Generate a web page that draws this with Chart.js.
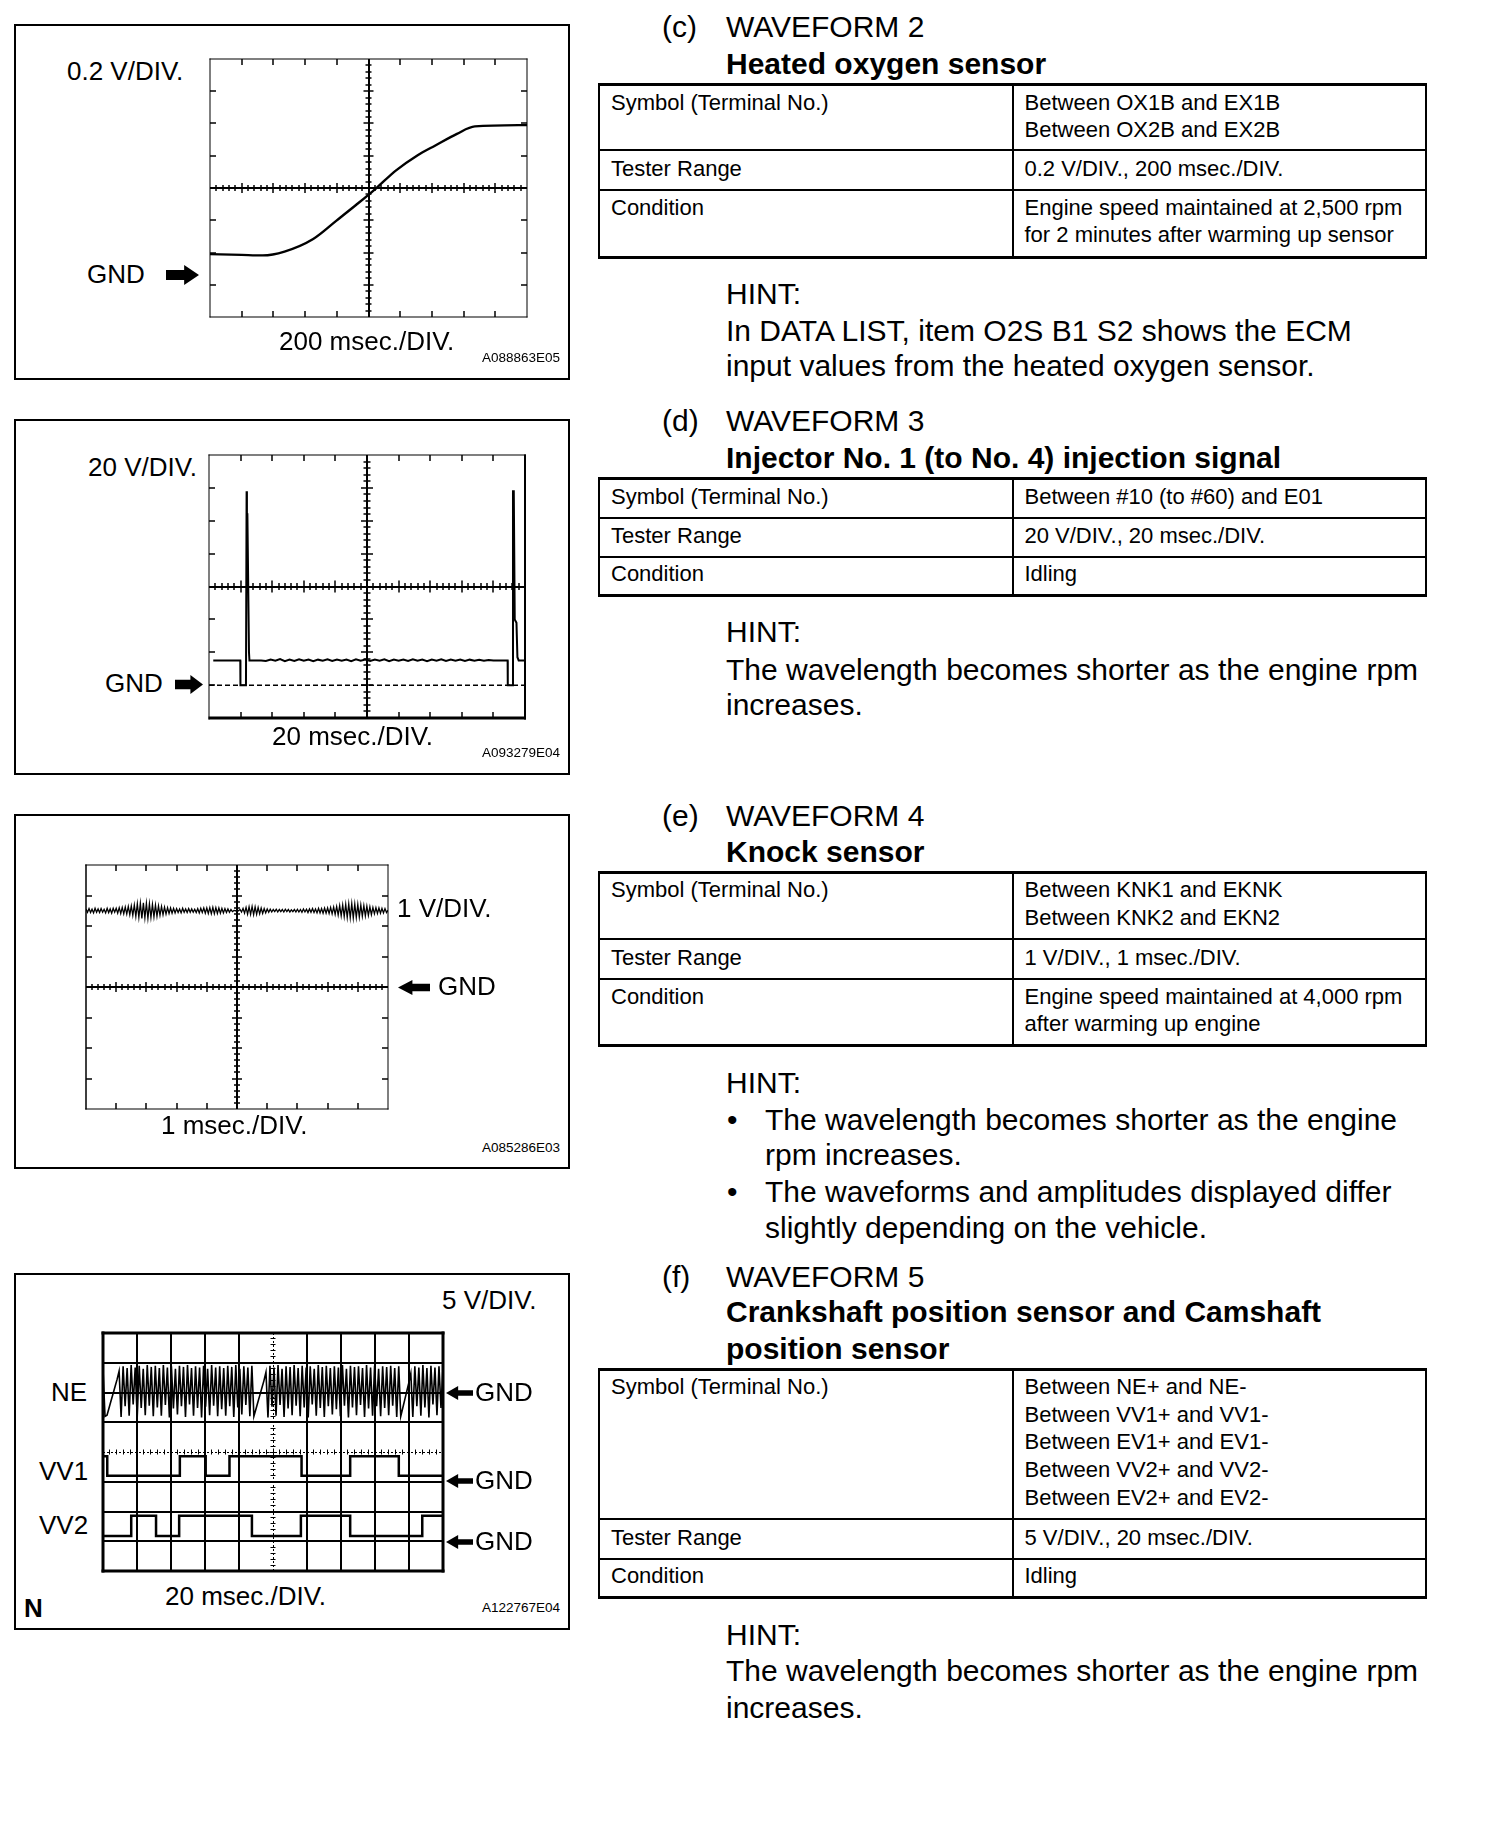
<!DOCTYPE html>
<html><head><meta charset="utf-8">
<script src="https://cdn.jsdelivr.net/npm/chart.js@4"></script>
<style>
html,body{margin:0;padding:0;background:#fff;}
body{width:1504px;height:1830px;position:relative;overflow:hidden;font-family:"Liberation Sans",Arial,Helvetica,sans-serif;color:#000;}
.t{position:absolute;white-space:pre;}
.r{position:absolute;background:#000;}
.box{position:absolute;border:2px solid #000;box-sizing:border-box;}
canvas{position:absolute;}
svg{position:absolute;}
</style></head><body>
<script>
// ================= DATA =================
// WAVEFORM 2 - heated oxygen sensor (x: msec, y: volts above GND)
const o2Time = [0, 200, 333, 470, 651, 798, 923, 1048, 1172, 1308, 1422, 1558, 1671, 2000];
const o2Volt = [0.130, 0.125, 0.122, 0.146, 0.224, 0.338, 0.436, 0.538, 0.648, 0.742, 0.804, 0.876, 0.922, 0.930];

// WAVEFORM 3 - injector signal (x: msec, y: volts)
const injTime = [2.7, 19.8, 19.9, 23.4, 23.8, 24.0, 24.3, 25.3, 25.6, 30, 33, 36, 39, 42, 45, 48, 51, 54, 57, 60, 63, 66, 69, 72, 75, 78, 81, 84, 87, 90, 93, 96, 99, 102, 105, 108, 111, 114, 117, 120, 123, 126, 129, 132, 135, 138, 141, 144, 147, 150, 153, 156, 159, 162, 165, 168, 171, 174, 177, 180, 184, 189, 189.1, 192.0, 192.4, 192.9, 193.5, 194.6, 195.2, 196, 200];
const injVolt = [15, 15, 0, 0, 118, 104, 104, 20, 15, 15.0, 15.0, 14.7, 15.6, 14.8, 15.8, 14.6, 15.5, 14.7, 15.7, 14.8, 15.6, 14.6, 15.5, 14.9, 15.7, 14.7, 15.6, 14.8, 15.5, 14.6, 15.7, 14.8, 15.5, 14.7, 15.6, 14.9, 15.7, 14.6, 15.5, 14.8, 15.6, 14.7, 15.7, 14.8, 15.5, 14.6, 15.6, 14.9, 15.7, 14.7, 15.5, 14.8, 15.6, 14.7, 15.5, 14.9, 15.4, 14.8, 15.3, 15.0, 15.0, 15.0, 0, 0, 118, 118, 40, 38, 17, 15, 15];
const injGndTime = [0, 200];
const injGndVolt = [0, 0];

// WAVEFORM 4 - knock sensor (samples every 0.05 msec, volts)
const knockStep = 0.05;
const knockVolt = [
 2.56,2.45,2.57,2.44,2.55,2.43,2.58,2.45,2.56,2.44,
 2.57,2.45,2.55,2.43,2.58,2.44,2.56,2.42,2.58,2.45,
 2.58,2.42,2.60,2.41,2.61,2.40,2.62,2.39,2.64,2.37,
 2.66,2.35,2.69,2.31,2.73,2.28,2.75,2.25,2.76,2.27,
 2.75,2.25,2.73,2.28,2.71,2.30,2.69,2.32,2.66,2.35,
 2.64,2.37,2.62,2.39,2.60,2.41,2.59,2.42,2.58,2.43,
 2.57,2.44,2.56,2.43,2.58,2.45,2.56,2.44,2.57,2.45,
 2.56,2.45,2.55,2.44,2.57,2.43,2.58,2.44,2.59,2.42,
 2.59,2.41,2.60,2.40,2.61,2.40,2.60,2.41,2.59,2.42,
 2.58,2.43,2.57,2.44,2.56,2.45,2.54,2.47,2.51,2.50,
 2.50,2.50,2.54,2.46,2.58,2.42,2.61,2.39,2.63,2.38,
 2.64,2.37,2.63,2.38,2.61,2.40,2.59,2.41,2.57,2.43,
 2.56,2.45,2.55,2.46,2.54,2.47,2.55,2.46,2.54,2.47,
 2.54,2.46,2.55,2.47,2.54,2.46,2.53,2.47,2.54,2.46,
 2.55,2.46,2.54,2.45,2.56,2.46,2.55,2.44,2.56,2.45,
 2.57,2.44,2.56,2.43,2.58,2.43,2.57,2.42,2.59,2.42,
 2.59,2.41,2.61,2.40,2.62,2.38,2.64,2.36,2.67,2.33,
 2.69,2.31,2.71,2.28,2.73,2.27,2.74,2.26,2.72,2.28,
 2.71,2.29,2.69,2.32,2.67,2.33,2.65,2.35,2.63,2.37,
 2.61,2.40,2.60,2.41,2.59,2.42,2.58,2.43,2.57,2.44,
 2.52];

// WAVEFORM 5 - crankshaft NE (170 samples over 200 msec, volts)
const neSpan = 200;
const neVolt = [
 4.0,-4.0,
 -3.8,-2.6,-1.4,-0.2,1.0,2.2,3.6,
 -4.1,4.4,-2.3,4.1,-3.9,4.6,-2.0,4.2,-4.2,4.5,-2.6,4.0,-3.8,4.6,-2.2,4.3,-4.0,4.5,-2.5,4.1,
 -3.9,4.6,-2.1,4.2,-4.2,4.4,-2.7,4.0,-3.7,4.5,-2.3,4.3,-4.1,4.6,-2.0,4.1,-3.9,4.4,-2.6,4.2,
 -4.2,4.5,-2.4,4.0,-3.8,4.6,-2.2,4.2,-4.0,4.4,-2.8,4.1,-3.9,4.5,-2.3,4.3,-4.1,4.6,-2.5,4.0,
 -3.7,4.4,-2.1,4.2,-4.0,4.5,
 -4.0,-2.8,-1.6,-0.4,0.8,2.0,3.4,
 -4.2,4.5,-2.4,4.2,-3.9,4.6,-2.1,4.0,-4.1,4.4,-2.7,4.3,-3.8,4.6,-2.2,4.1,-4.0,4.5,-2.5,4.2,
 -4.2,4.4,-2.0,4.0,-3.9,4.6,-2.6,4.3,-4.1,4.5,-2.3,4.1,-3.7,4.4,-2.8,4.2,-4.0,4.6,-2.2,4.0,
 -4.2,4.5,-2.5,4.3,-3.8,4.4,-2.1,4.1,-4.1,4.6,-2.7,4.2,-3.9,4.5,-2.3,4.0,-4.0,4.4,-2.6,4.3,
 -3.8,4.5,-2.2,4.1,-4.1,4.4,
 -4.0,-2.6,-1.2,0.2,1.6,3.2,
 -4.1,4.4,-2.3,4.2,-3.9,4.6,-2.5,4.1,-4.2,4.5,-2.0,4.2,-3.8,4.4,-2.6,4.3];
// camshaft VV1 / VV2 (level holds from each time until the next one)
const vv1Time = [0.6, 2.5, 45.2, 60.4, 74.4, 116.8, 145.4, 174.0, 200];
const vv1Volt = [4.3, 1.0, 4.3, 1.0, 4.3, 1.0, 4.3, 1.0, 1.0];
const vv2Time = [0.6, 16.6, 31.2, 44.8, 87.6, 116.4, 145.4, 187.8, 200];
const vv2Volt = [0.9, 4.3, 0.9, 4.3, 0.9, 4.3, 0.9, 4.3, 4.3];

// tick / scale labels
const o2Labels = ['0.2 V/DIV.', '200 msec./DIV.', 'A088863E05'];
const injLabels = ['20 V/DIV.', '20 msec./DIV.', 'A093279E04'];
const knockLabels = ['1 V/DIV.', '1 msec./DIV.', 'A085286E03'];
const camLabels = ['5 V/DIV.', '20 msec./DIV.', 'A122767E04'];
const camChannels = ['NE', 'VV1', 'VV2'];

// ================= HELPERS =================
const pts = (xs, ys) => xs.map((x, i) => ({x: x, y: ys[i]}));
function txt(x, cy, s, size, bold) {
  const d = document.createElement('div'); d.className = 't';
  d.textContent = s; d.style.left = x + 'px'; d.style.top = (cy - size * 0.53) + 'px';
  d.style.fontSize = size + 'px'; d.style.lineHeight = size + 'px';
  if (bold) d.style.fontWeight = 'bold';
  document.body.appendChild(d);
}
function rect(x, y, w, h) {
  const d = document.createElement('div'); d.className = 'r';
  d.style.left = x + 'px'; d.style.top = y + 'px'; d.style.width = w + 'px'; d.style.height = h + 'px';
  document.body.appendChild(d);
}
function box(x, y, w, h) {
  const d = document.createElement('div'); d.className = 'box';
  d.style.left = x + 'px'; d.style.top = y + 'px'; d.style.width = w + 'px'; d.style.height = h + 'px';
  document.body.appendChild(d);
}
function arrow(x, cy, w, h, dir, shaft) {
  const ns = 'http://www.w3.org/2000/svg';
  const s = document.createElementNS(ns, 'svg');
  s.setAttribute('width', w); s.setAttribute('height', h);
  s.style.left = x + 'px'; s.style.top = (cy - h / 2) + 'px';
  const p = document.createElementNS(ns, 'polygon');
  const hl = w * 0.45, a = h * (1 - shaft) / 2, b = h - a;
  let P = [[0, a], [w - hl, a], [w - hl, 0], [w, h / 2], [w - hl, h], [w - hl, b], [0, b]];
  if (dir === 'left') P = P.map(q => [w - q[0], q[1]]);
  p.setAttribute('points', P.map(q => q.join(',')).join(' '));
  p.setAttribute('fill', '#000');
  s.appendChild(p); document.body.appendChild(s);
}

// scope grid plugin
const scopePlugin = {
  id: 'scope',
  beforeDatasetsDraw(chart, args, o) {
    const ctx = chart.ctx, a = chart.chartArea;
    const xs = chart.scales.x, ys = chart.scales[o.gridAxis || 'y'];
    const X = k => xs.getPixelForValue(xs.min + (xs.max - xs.min) * k / o.xDivs);
    const Y = k => ys.getPixelForValue(ys.min + (ys.max - ys.min) * k / o.yDivs);
    ctx.save(); ctx.strokeStyle = '#000'; ctx.lineCap = 'butt';
    const snap = (v, w) => (Math.round(w) % 2 === 1) ? Math.floor(v) + 0.5 : Math.round(v);
    const line = (x1, y1, x2, y2, w, dash) => {
      if (x1 === x2) { x1 = x2 = snap(x1, w); }
      if (y1 === y2) { y1 = y2 = snap(y1, w); }
      ctx.lineWidth = w; ctx.setLineDash(dash || []);
      ctx.beginPath(); ctx.moveTo(x1, y1); ctx.lineTo(x2, y2); ctx.stroke();
    };
    if (o.gridWidth) {
      for (let k = 1; k < o.xDivs; k++) if (k !== o.crossX) line(X(k), a.top, X(k), a.bottom, o.gridWidth);
      for (let k = 1; k < o.yDivs; k++) if (k !== o.crossY) line(a.left, Y(k), a.right, Y(k), o.gridWidth);
    }
    const t = o.edgeTick || 0, e = o.edges || {};
    if (t) {
      for (let k = 1; k < o.xDivs; k++) {
        if (e.top) line(X(k), a.top, X(k), a.top + t, 1.5);
        if (e.bottom) line(X(k), a.bottom, X(k), a.bottom - t, 1.5);
      }
      for (let k = 1; k < o.yDivs; k++) {
        if (e.left) line(a.left, Y(k), a.left + t, Y(k), 1.5);
        if (e.right) line(a.right, Y(k), a.right - t, Y(k), 1.5);
      }
    }
    const cx = X(o.crossX), cy = Y(o.crossY);
    line(a.left, cy, a.right, cy, o.crossWidth, o.crossDash);
    line(cx, a.top, cx, a.bottom, o.crossWidth, o.crossDash);
    const n = 5;
    for (let j = 1; j < o.xDivs * n; j++) {
      const h = j % n === 0 ? o.majorHalf : o.minorHalf;
      line(X(j / n), cy - h, X(j / n), cy + h, o.tickWidth);
    }
    for (let j = 1; j < o.yDivs * n; j++) {
      const h = j % n === 0 ? o.majorHalf : o.minorHalf;
      line(cx - h, Y(j / n), cx + h, Y(j / n), o.tickWidth);
    }
    ctx.restore();
  },
  afterDatasetsDraw(chart, args, o) {
    const ctx = chart.ctx, a = chart.chartArea;
    const [ft, fr, fb, fl] = o.frame;
    ctx.save(); ctx.fillStyle = '#000';
    ctx.fillRect(a.left - fl / 2, a.top - ft / 2, a.right - a.left + fl / 2 + fr / 2, ft);
    ctx.fillRect(a.left - fl / 2, a.bottom - fb / 2, a.right - a.left + fl / 2 + fr / 2, fb);
    ctx.fillRect(a.left - fl / 2, a.top - ft / 2, fl, a.bottom - a.top + ft / 2 + fb / 2);
    ctx.fillRect(a.right - fr / 2, a.top - ft / 2, fr, a.bottom - a.top + ft / 2 + fb / 2);
    ctx.restore();
  }
};
Chart.register(scopePlugin);

function makeChart(plot, datasets, scales, scope) {
  const m = 10;
  const c = document.createElement('canvas');
  const W = plot.r - plot.l + 2 * m, H = plot.b - plot.t + 2 * m;
  c.width = W; c.height = H;
  c.style.left = (plot.l - m) + 'px'; c.style.top = (plot.t - m) + 'px';
  c.style.width = W + 'px'; c.style.height = H + 'px';
  document.body.appendChild(c);
  const sc = {};
  for (const k in scales) sc[k] = Object.assign({type: 'linear', display: false}, scales[k]);
  return new Chart(c, {
    type: 'line',
    data: {datasets: datasets.map(d => Object.assign({borderColor: '#000', pointRadius: 0, fill: false, tension: 0}, d))},
    options: {
      responsive: false, animation: false, devicePixelRatio: 1,
      layout: {padding: m},
      scales: sc,
      plugins: {legend: {display: false}, tooltip: {enabled: false}, scope: scope},
      events: []
    }
  });
}

// ================= PANELS =================
// Panel 1: heated oxygen sensor
box(14, 24, 556, 356);
makeChart({l: 210, r: 527, t: 59, b: 317},
  [{data: pts(o2Time, o2Volt), borderWidth: 2.4, cubicInterpolationMode: 'monotone'}],
  {x: {min: 0, max: 2000}, y: {min: -0.26, max: 1.34}},
  {xDivs: 10, yDivs: 8, crossX: 5, crossY: 4, crossWidth: 2, tickWidth: 1.5, minorHalf: 3, majorHalf: 5,
   edgeTick: 6, edges: {top: 1, bottom: 1, left: 1, right: 1}, frame: [1, 1, 1, 1]});
txt(67, 72, o2Labels[0], 26);
txt(87, 275, 'GND', 26);
arrow(166, 275, 33, 20, 'right', 0.5);
txt(279, 342, o2Labels[1], 26);
txt(482, 358, o2Labels[2], 13.5);

// Panel 2: injector
box(14, 419, 556, 356);
makeChart({l: 209, r: 525, t: 455, b: 718},
  [{data: pts(injGndTime, injGndVolt), borderWidth: 1.5, borderDash: [5, 3]},
   {data: pts(injTime, injVolt), borderWidth: 2}],
  {x: {min: 0, max: 200}, y: {min: -20, max: 140}},
  {xDivs: 10, yDivs: 8, crossX: 5, crossY: 4, crossWidth: 2, tickWidth: 1.5, minorHalf: 3.5, majorHalf: 6,
   edgeTick: 6, edges: {top: 1, bottom: 1, left: 1}, frame: [1, 2, 3, 1]});
txt(88, 468, injLabels[0], 26);
txt(105, 684, 'GND', 26);
arrow(175, 684, 28, 19, 'right', 0.5);
txt(272, 737, injLabels[1], 26);
txt(482, 753, injLabels[2], 13.5);

// Panel 3: knock sensor
box(14, 814, 556, 355);
makeChart({l: 86, r: 388, t: 865, b: 1109},
  [{data: knockVolt.map((v, i) => ({x: i * knockStep, y: v})), borderWidth: 1.3}],
  {x: {min: 0, max: 10}, y: {min: -4, max: 4}},
  {xDivs: 10, yDivs: 8, crossX: 5, crossY: 4, crossWidth: 2, tickWidth: 1.5, minorHalf: 3, majorHalf: 5,
   edgeTick: 6, edges: {top: 1, bottom: 1, left: 1, right: 1}, frame: [1, 1, 1, 1.5]});
txt(397, 909, knockLabels[0], 26);
arrow(398, 987, 32, 15, 'left', 0.5);
txt(438, 987, 'GND', 26);
txt(161, 1126, knockLabels[1], 26);
txt(482, 1148, knockLabels[2], 13.5);

// Panel 4: crankshaft / camshaft
box(14, 1273, 556, 357);
const neStep = neSpan / (neVolt.length - 1);
makeChart({l: 103, r: 443, t: 1333, b: 1571},
  [{data: neVolt.map((v, i) => ({x: i * neStep, y: v})), yAxisID: 'yNE', borderWidth: 1.6},
   {data: pts(vv1Time, vv1Volt), yAxisID: 'yV1', borderWidth: 2.5, stepped: true},
   {data: pts(vv2Time, vv2Volt), yAxisID: 'yV2', borderWidth: 2.5, stepped: true}],
  {x: {min: 0, max: 200}, y: {min: 0, max: 8}, yNE: {min: -30, max: 10}, yV1: {min: -15, max: 25}, yV2: {min: -5, max: 35}},
  {xDivs: 10, yDivs: 8, crossX: 5, crossY: 4, crossWidth: 1, crossDash: [2, 2], tickWidth: 1, minorHalf: 2.5, majorHalf: 3.5,
   gridWidth: 2, edgeTick: 0, frame: [3, 3, 3, 3]});
txt(442, 1301, camLabels[0], 26);
txt(51, 1393, camChannels[0], 26);
txt(39, 1472, camChannels[1], 26);
txt(39, 1526, camChannels[2], 26);
[1393, 1481, 1541.5].forEach(y => { arrow(446, y, 27, 14, 'left', 0.4); txt(475, y, 'GND', 26); });
txt(165, 1597, camLabels[1], 26);
txt(24, 1608.5, 'N', 26, true);
txt(482, 1608.5, camLabels[2], 13.5);

// ================= RIGHT COLUMN =================
const TL = 598.6, TR = 1425.8, TD = 1012.8, C1 = 611, C2 = 1024.5, HX = 726, PX = 662;
function table(lines) {
  const top = lines[0], bot = lines[lines.length - 1];
  lines.forEach((y, i) => {
    const w = (i === 0 || i === lines.length - 1) ? 3 : 2;
    rect(TL - 1, y - w / 2, TR - TL + 2, w);
  });
  [TL, TD, TR].forEach(x => rect(x - 1, top, 2, bot - top));
}
// (c)
txt(PX, 28, '(c)', 30); txt(HX, 28, 'WAVEFORM 2', 30); txt(HX, 64.5, 'Heated oxygen sensor', 30, true);
table([84, 150, 190, 257.3]);
txt(C1, 103.5, 'Symbol (Terminal No.)', 22); txt(C2, 103.5, 'Between OX1B and EX1B', 22); txt(C2, 130.3, 'Between OX2B and EX2B', 22);
txt(C1, 169.3, 'Tester Range', 22); txt(C2, 169.3, '0.2 V/DIV., 200 msec./DIV.', 22);
txt(C1, 208.4, 'Condition', 22); txt(C2, 208.4, 'Engine speed maintained at 2,500 rpm', 22); txt(C2, 235.7, 'for 2 minutes after warming up sensor', 22);
txt(HX, 294.5, 'HINT:', 30); txt(HX, 331.5, 'In DATA LIST, item O2S B1 S2 shows the ECM', 30); txt(HX, 367, 'input values from the heated oxygen sensor.', 30);
// (d)
txt(PX, 422, '(d)', 30); txt(HX, 422, 'WAVEFORM 3', 30); txt(HX, 459, 'Injector No. 1 (to No. 4) injection signal', 30, true);
table([478, 517.5, 557, 595.5]);
txt(C1, 498, 'Symbol (Terminal No.)', 22); txt(C2, 498, 'Between #10 (to #60) and E01', 22);
txt(C1, 537, 'Tester Range', 22); txt(C2, 537, '20 V/DIV., 20 msec./DIV.', 22);
txt(C1, 575, 'Condition', 22); txt(C2, 575, 'Idling', 22);
txt(HX, 633, 'HINT:', 30); txt(HX, 670.5, 'The wavelength becomes shorter as the engine rpm', 30); txt(HX, 706, 'increases.', 30);
// (e)
txt(PX, 817, '(e)', 30); txt(HX, 817, 'WAVEFORM 4', 30); txt(HX, 852.5, 'Knock sensor', 30, true);
table([872.5, 939, 979, 1045.5]);
txt(C1, 891, 'Symbol (Terminal No.)', 22); txt(C2, 891, 'Between KNK1 and EKNK', 22); txt(C2, 919, 'Between KNK2 and EKN2', 22);
txt(C1, 958.5, 'Tester Range', 22); txt(C2, 958.5, '1 V/DIV., 1 msec./DIV.', 22);
txt(C1, 997.5, 'Condition', 22); txt(C2, 997.5, 'Engine speed maintained at 4,000 rpm', 22); txt(C2, 1024.5, 'after warming up engine', 22);
txt(HX, 1084, 'HINT:', 30);
txt(727, 1120.5, '•', 30); txt(765, 1120.5, 'The wavelength becomes shorter as the engine', 30); txt(765, 1156, 'rpm increases.', 30);
txt(727, 1193, '•', 30); txt(765, 1193, 'The waveforms and amplitudes displayed differ', 30); txt(765, 1229, 'slightly depending on the vehicle.', 30);
// (f)
txt(PX, 1278, '(f)', 30); txt(HX, 1278, 'WAVEFORM 5', 30);
txt(HX, 1313, 'Crankshaft position sensor and Camshaft', 30, true); txt(HX, 1349.5, 'position sensor', 30, true);
table([1369.5, 1519, 1558.5, 1597.5]);
txt(C1, 1388, 'Symbol (Terminal No.)', 22);
txt(C2, 1388, 'Between NE+ and NE-', 22); txt(C2, 1416, 'Between VV1+ and VV1-', 22); txt(C2, 1443, 'Between EV1+ and EV1-', 22);
txt(C2, 1471, 'Between VV2+ and VV2-', 22); txt(C2, 1498.5, 'Between EV2+ and EV2-', 22);
txt(C1, 1538.5, 'Tester Range', 22); txt(C2, 1538.5, '5 V/DIV., 20 msec./DIV.', 22);
txt(C1, 1577, 'Condition', 22); txt(C2, 1577, 'Idling', 22);
txt(HX, 1636, 'HINT:', 30); txt(HX, 1672, 'The wavelength becomes shorter as the engine rpm', 30); txt(HX, 1709, 'increases.', 30);
</script>
</body></html>
